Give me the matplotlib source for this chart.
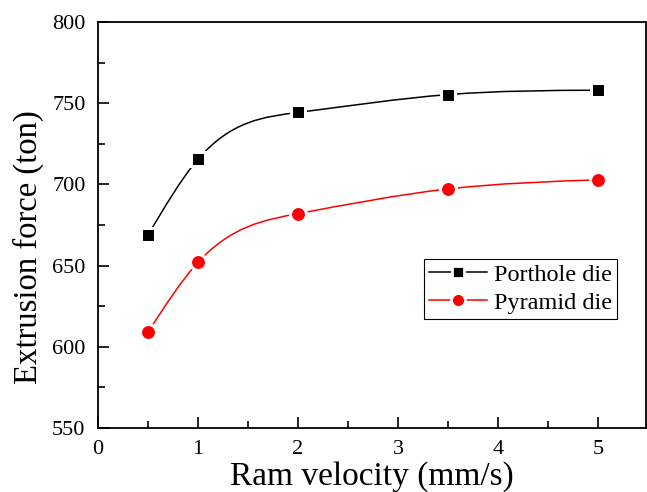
import numpy as np
import matplotlib
matplotlib.use("Agg")
import matplotlib.pyplot as plt
from matplotlib.path import Path
from matplotlib.patches import PathPatch
from matplotlib.lines import Line2D
from matplotlib.ticker import MultipleLocator

plt.rcParams['font.family'] = ['Liberation Serif', 'DejaVu Serif']

ram_velocity = [0.5, 1.0, 2.0, 3.5, 5.0]
porthole_force = [668.8, 715.5, 744.3, 755.3, 758.0]
pyramid_force = [609.0, 652.0, 682.0, 697.2, 702.8]
series_names = ["Porthole die", "Pyramid die"]


def spline_path(x, y):
    x = np.asarray(x, float)
    y = np.asarray(y, float)
    n = len(x)
    h = np.diff(x)
    # natural cubic spline second derivatives
    A = np.zeros((n, n))
    b = np.zeros(n)
    A[0, 0] = 1
    A[-1, -1] = 1
    for i in range(1, n - 1):
        A[i, i - 1] = h[i - 1]
        A[i, i] = 2 * (h[i - 1] + h[i])
        A[i, i + 1] = h[i]
        b[i] = 6 * ((y[i + 1] - y[i]) / h[i] - (y[i] - y[i - 1]) / h[i - 1])
    M = np.linalg.solve(A, b)
    d = np.zeros(n)
    for i in range(n - 1):
        d[i] = (y[i + 1] - y[i]) / h[i] - h[i] * (2 * M[i] + M[i + 1]) / 6
    d[-1] = (y[-1] - y[-2]) / h[-1] + h[-1] * (M[-2] + 2 * M[-1]) / 6
    verts = [(x[0], y[0])]
    codes = [Path.MOVETO]
    for i in range(n - 1):
        verts += [(x[i] + h[i] / 3, y[i] + d[i] * h[i] / 3),
                  (x[i + 1] - h[i] / 3, y[i + 1] - d[i + 1] * h[i] / 3),
                  (x[i + 1], y[i + 1])]
        codes += [Path.CURVE4] * 3
    return Path(verts, codes)


fig = plt.figure(figsize=(6.47, 4.92), dpi=100)
ax = fig.add_axes([98 / 647, 1 - 428 / 492, 548 / 647, 406 / 492])

colors = ["black", "red"]
markers = ["s", "o"]
msizes = [10.0, 11.5]
lmsizes = [8.5, 10.0]
handles = []
for yv, c, m, ms, lms, name in zip([porthole_force, pyramid_force], colors, markers, msizes, lmsizes, series_names):
    ax.add_patch(PathPatch(spline_path(ram_velocity, yv), fill=False, edgecolor=c, lw=1.1, zorder=2))
    ax.plot(ram_velocity, yv, linestyle='none', marker=m, markersize=ms, markerfacecolor=c,
            markeredgecolor='white', markeredgewidth=2.2, zorder=3)
    handles.append(Line2D([], [], color=c, lw=1.1, marker=m, markersize=lms, markerfacecolor=c,
                          markeredgecolor='white', markeredgewidth=2.0))

ax.set_xlim(0, 5.48)
ax.set_ylim(550, 800)
ax.xaxis.set_major_locator(MultipleLocator(1))
ax.xaxis.set_minor_locator(MultipleLocator(0.5))
ax.yaxis.set_major_locator(MultipleLocator(50))
ax.yaxis.set_minor_locator(MultipleLocator(25))
ax.tick_params(which='both', direction='in', top=False, right=False, labelsize=16, width=1.2)
ax.tick_params(which='major', length=8)
ax.tick_params(which='minor', length=5)
ax.tick_params(axis='x', pad=9)
ax.tick_params(axis='y', pad=9)
for s in ax.spines.values():
    s.set_linewidth(1.3)

ax.set_xlabel("Ram velocity (mm/s)", fontsize=24)
ax.xaxis.set_label_coords(0.5, -0.081)
ax.set_ylabel("Extrusion force (ton)", fontsize=23.5)
ax.yaxis.set_label_coords(-0.098, 0.446)

leg = ax.legend(handles, series_names, loc='upper left', bbox_to_anchor=((424 - 98) / 548, (428 - 259) / 406),
                fontsize=17.5, frameon=True, fancybox=False, edgecolor='black', framealpha=1,
                handlelength=2.4, handletextpad=0.3, borderpad=0.2, labelspacing=0.25, borderaxespad=0)
leg.get_frame().set_linewidth(0.8)

fig.savefig("out.png", dpi=100)
